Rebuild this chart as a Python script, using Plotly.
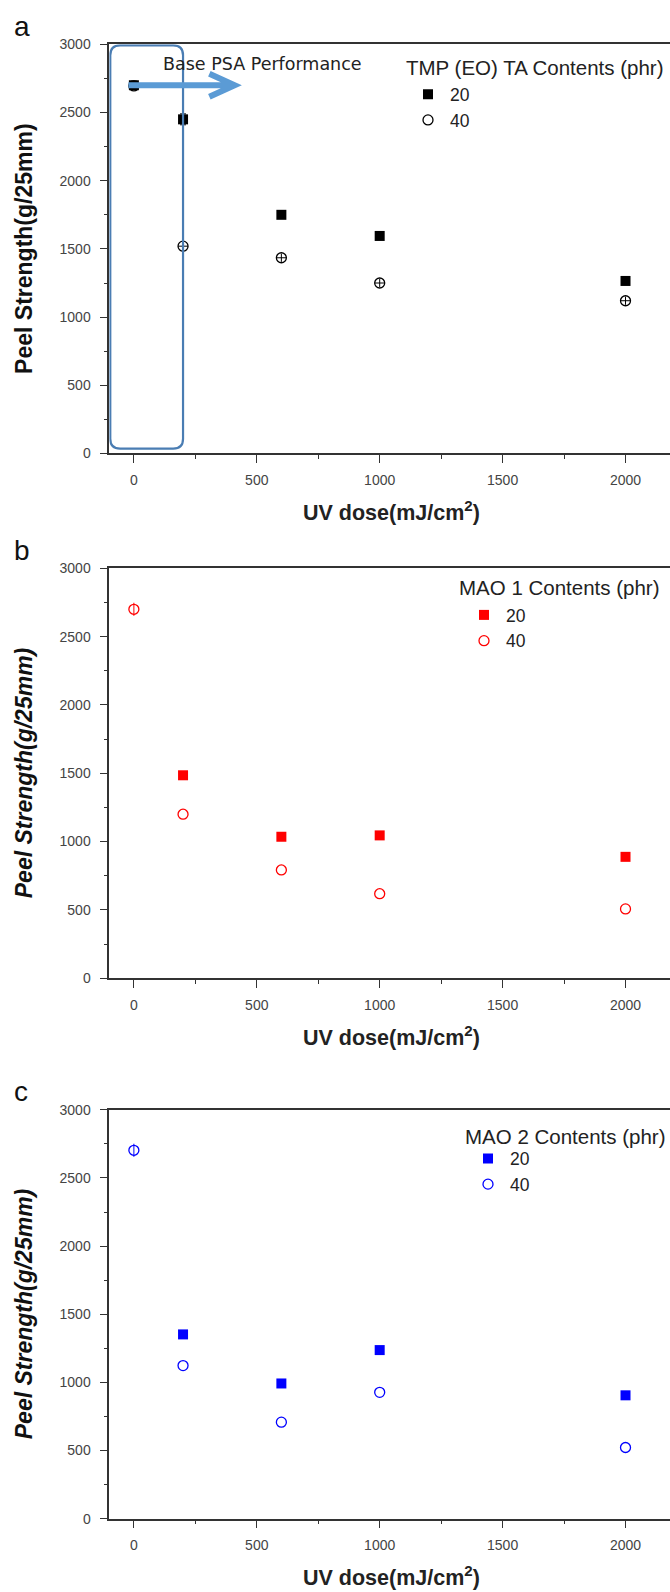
import plotly.graph_objects as go

W, H = 670, 1592

# ---------------- data ----------------
dose = [0, 200, 600, 1000, 2000]

a_20 = [2700, 2450, 1750, 1595, 1265]
a_40 = [2695, 1520, 1435, 1250, 1120]
a_20_err = [30, 40, 20, 20, 15]
a_40_err = [30, 30, 30, 30, 30]
a_40_xerr = [20, 20, 20, 20, 20]

b_20 = [None, 1485, 1035, 1045, 888]
b_40 = [2700, 1200, 792, 618, 507]
b_20_err = [0, 15, 15, 15, 15]
b_40_err = [48, 0, 0, 0, 0]

c_20 = [None, 1352, 992, 1237, 905]
c_40 = [2703, 1123, 708, 927, 522]
c_20_err = [0, 15, 15, 15, 15]
c_40_err = [48, 0, 0, 0, 0]

legend_titles = ["TMP (EO) TA Contents (phr)", "MAO 1 Contents (phr)", "MAO 2 Contents (phr)"]
series_names = ["20", "40"]
panel_letters = ["a", "b", "c"]
y_ticks = [0, 500, 1000, 1500, 2000, 2500, 3000]
x_ticks = [0, 500, 1000, 1500, 2000]

colors = ["#000000", "#ff0000", "#0000ff"]

# ---------------- layout geometry (pixels) ----------------
def fx(p):
    return p / W

def fy(p):
    return 1 - p / H

x_left_px = 109.3
# panel (top px of 3000, bottom px of 0)
panels_px = [(36.7, 450.0), (566.0, 980.0), (1113.0, 1526.0)]

fig = go.Figure()

data = [
    (a_20, a_40, a_20_err, a_40_err, a_40_xerr),
    (b_20, b_40, b_20_err, b_40_err, None),
    (c_20, c_40, c_20_err, c_40_err, None),
]

tick_font = dict(family="Liberation Sans, Arial", size=14, color="#444444")
axis_line = "#333333"

for i in range(3):
    sfx = "" if i == 0 else str(i + 1)
    xa, ya = "x" + sfx, "y" + sfx
    leg = "legend" + sfx
    col = colors[i]
    s20, s40, e20, e40, ex40 = data[i]
    fig.add_trace(go.Scatter(
        x=dose, y=s20, mode="markers", name=series_names[0],
        marker=dict(symbol="square", size=10, color=col, line=dict(width=0)),
        error_y=dict(type="data", array=e20, color=col, thickness=1, width=3),
        xaxis=xa, yaxis=ya, legend=leg, cliponaxis=False))
    err_x = dict(type="data", array=ex40, color=col, thickness=1, width=0) if ex40 else None
    fig.add_trace(go.Scatter(
        x=dose, y=s40, mode="markers", name=series_names[1],
        marker=dict(symbol="circle-open", size=10, color=col, line=dict(width=1.3, color=col)),
        error_y=dict(type="data", array=e40, color=col, thickness=1, width=0),
        error_x=err_x,
        xaxis=xa, yaxis=ya, legend=leg, cliponaxis=False))

    top, bot = panels_px[i]
    xkw = dict(
        domain=[fx(x_left_px), 1.0], range=[-100, 2181],
        tickvals=x_ticks, ticks="outside", ticklen=8, tickwidth=1.3, tickcolor=axis_line,
        minor=dict(dtick=250, tick0=0, ticks="outside", ticklen=4, tickwidth=1.2, tickcolor=axis_line),
        showline=True, linewidth=1.6, linecolor=axis_line, mirror=True,
        showgrid=False, zeroline=False, tickfont=tick_font, ticklabelstandoff=5,
        anchor=ya, fixedrange=True,
    )
    ykw = dict(
        domain=[fy(bot), fy(top)], range=[0, 3000],
        tickvals=y_ticks, ticks="outside", ticklen=8, tickwidth=1.3, tickcolor=axis_line,
        minor=dict(dtick=250, tick0=0, ticks="outside", ticklen=4, tickwidth=1.2, tickcolor=axis_line),
        showline=True, linewidth=1.6, linecolor=axis_line,
        showgrid=False, zeroline=False, tickfont=tick_font, ticklabelstandoff=6,
        anchor=xa, fixedrange=True,
    )
    fig.layout["xaxis" + sfx] = xkw
    fig.layout["yaxis" + sfx] = ykw

    # axis titles
    fig.add_annotation(
        text="<b>UV dose(mJ/cm<sup>2</sup>)</b>", xref="paper", yref="paper",
        x=fx(391), y=fy(bot + 58), xanchor="center", yanchor="middle", showarrow=False,
        font=dict(family="Liberation Sans, Arial", size=21.5, color="#222222"))
    ytitle = "<b>Peel Strength(g/25mm)</b>" if i == 0 else "<b><i>Peel Strength(g/25mm)</i></b>"
    fig.add_annotation(
        text=ytitle, xref="paper", yref="paper", textangle=-90,
        x=fx(24), y=fy((top + bot) / 2), xanchor="center", yanchor="middle", showarrow=False,
        font=dict(family="Liberation Sans, Arial", size=23, color="#111111"))
    # panel letter
    fig.add_annotation(
        text=panel_letters[i], xref="paper", yref="paper",
        x=fx(12), y=fy(top - 18), xanchor="left", yanchor="middle", showarrow=False,
        font=dict(family="Liberation Sans, Arial", size=28, color="#111111"))

# legends: title as text, entries from the traces
legend_title_pos = [(404, 60.5), (457, 585.7), (463, 1140)]
legend_pos = [(406, 69), (462, 595), (466, 1144)]
for i in range(3):
    sfx = "" if i == 0 else str(i + 1)
    tx, ty = legend_title_pos[i]
    fig.add_annotation(
        text=legend_titles[i], xref="paper", yref="paper",
        x=fx(tx), y=fy(ty), xanchor="left", yanchor="middle", showarrow=False,
        font=dict(family="Liberation Sans, Arial", size=20.5, color="#222222"))
    lx, ly = legend_pos[i]
    fig.layout["legend" + sfx] = dict(
        x=fx(lx), y=fy(ly), xanchor="left", yanchor="top",
        bgcolor="rgba(0,0,0,0)", borderwidth=0,
        font=dict(family="Liberation Sans, Arial", size=17.5, color="#222222"),
        itemwidth=34, tracegroupgap=0,
    )

# Base PSA box (rounded) and arrow, panel a
x0, x1, y0, y1 = -96, 200, 36, 2992
rx, ry = 40, 72
box_path = (f"M {x0+rx},{y1} L {x1-rx},{y1} Q {x1},{y1} {x1},{y1-ry} "
            f"L {x1},{y0+ry} Q {x1},{y0} {x1-rx},{y0} L {x0+rx},{y0} "
            f"Q {x0},{y0} {x0},{y0+ry} L {x0},{y1-ry} Q {x0},{y1} {x0+rx},{y1} Z")
fig.add_shape(type="path", path=box_path, xref="x", yref="y",
              line=dict(color="#4a7db3", width=2.2), fillcolor="rgba(0,0,0,0)", layer="above")
arrow_path = "M -22,2700 L 400,2700 M 307,2785 L 410,2700 L 307,2615"
fig.add_shape(type="path", path=arrow_path, xref="x", yref="y",
              line=dict(color="#5b9bd5", width=6), layer="above")
fig.add_annotation(text="Base PSA Performance", xref="x", yref="y", x=525, y=2856,
                   xanchor="center", yanchor="middle", showarrow=False,
                   font=dict(family="DejaVu Sans", size=17.5, color="#222222"))

fig.update_layout(
    width=W, height=H, margin=dict(l=0, r=0, t=0, b=0),
    paper_bgcolor="white", plot_bgcolor="white", showlegend=True,
)

fig.write_html("out.html")
